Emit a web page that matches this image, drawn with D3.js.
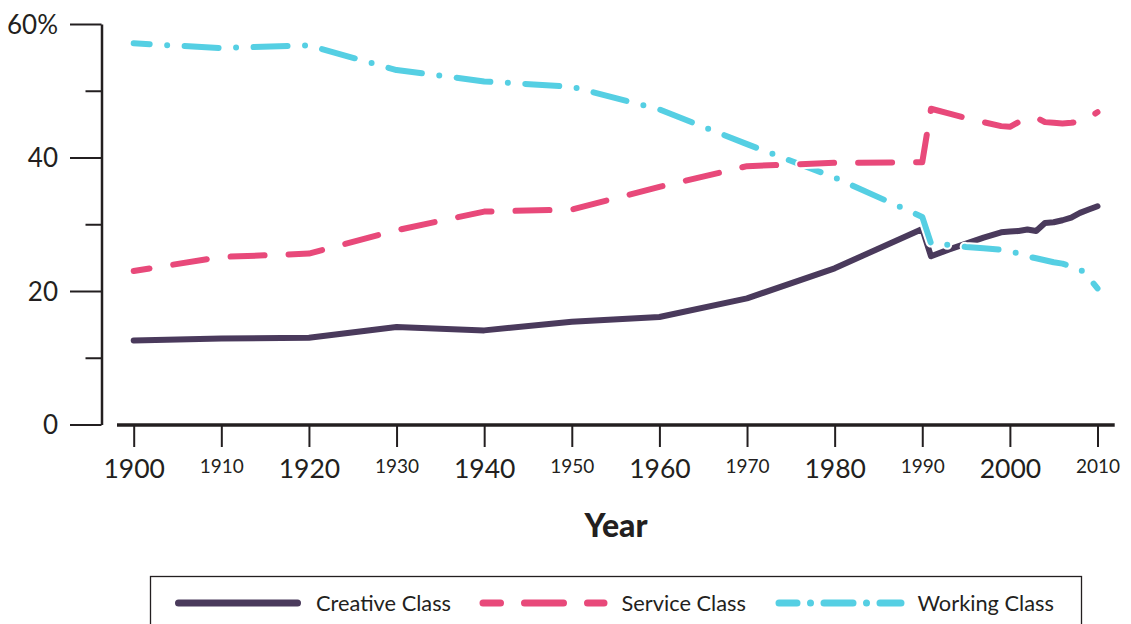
<!DOCTYPE html>
<html>
<head>
<meta charset="utf-8">
<script src="https://cdn.jsdelivr.net/npm/d3@7"></script>
<style>
  html, body { margin: 0; padding: 0; background: #fff; }
  svg { display: block; }
  text { font-family: Lato, "Open Sans", sans-serif; fill: #231f20; }
</style>
</head>
<body>
<script>
// ---- data ----
const years = [1900, 1910, 1920, 1930, 1940, 1950, 1960, 1970, 1980, 1990,
               1991, 1993, 1995, 1997, 1999, 2000, 2001, 2002, 2003, 2004,
               2005, 2006, 2007, 2008, 2009, 2010];
const creative = [12.6, 12.9, 13.0, 14.6, 14.1, 15.4, 16.1, 18.9, 23.4, 29.3,
                  25.2, 26.2, 27.1, 28.0, 28.8, 28.9, 29.0, 29.2, 29.0, 30.2,
                  30.3, 30.6, 31.0, 31.7, 32.2, 32.7];
const service = [23.0, 25.1, 25.6, 29.1, 31.9, 32.2, 35.6, 38.7, 39.2, 39.3,
                 47.3, 46.6, 45.9, 45.3, 44.7, 44.6, 45.3, 45.8, 46.0, 45.3,
                 45.2, 45.1, 45.2, 45.4, 45.9, 46.8];
const working = [57.1, 56.4, 56.8, 53.1, 51.4, 50.6, 47.2, 42.0, 37.0, 31.1,
                 27.1, 26.9, 26.6, 26.4, 26.2, 26.0, 25.6, 25.2, 24.9, 24.6,
                 24.3, 24.1, 23.7, 23.3, 22.0, 20.4];
const seriesNames = ["Creative Class", "Service Class", "Working Class"];
const seriesColors = ["#4a3a5c", "#e8497a", "#55cfe3"];
const yTicks = [0, 10, 20, 30, 40, 50, 60];
const yLabels = ["0", "", "20", "", "40", "", "60%"];
const xTicks = [1900, 1910, 1920, 1930, 1940, 1950, 1960, 1970, 1980, 1990, 2000, 2010];
const xTitle = "Year";

// ---- chart ----
const W = 1131, H = 624;
const svg = d3.select("body").append("svg").attr("width", W).attr("height", H);

const x = d3.scaleLinear().domain([1900, 2010]).range([133.7, 1097.5]);
const y = d3.scaleLinear().domain([0, 60]).range([424.5, 24]);

// Y axis
const gy = svg.append("g").attr("transform", "translate(101.5,0)")
  .call(d3.axisLeft(y).tickValues(yTicks).tickSize(31.5).tickSizeOuter(0).tickPadding(12)
    .tickFormat((d, i) => yLabels[i]));
gy.select(".domain").attr("stroke", "#231f20").attr("stroke-width", 2.5);
gy.selectAll(".tick line").attr("stroke", "#231f20").attr("stroke-width", 2)
  .attr("x2", d => d % 20 === 0 ? -31.5 : -16);
gy.selectAll(".tick text").style("font-size", "26px").attr("dy", "0.36em");

// X axis
const gx = svg.append("g").attr("transform", "translate(0,425)")
  .call(d3.axisBottom(x).tickValues(xTicks).tickSize(22).tickSizeOuter(0)
    .tickFormat(d => String(d)));
gx.select(".domain").remove();
gx.append("line").attr("x1", 117).attr("x2", 1114.7).attr("y1", 0).attr("y2", 0)
  .attr("stroke", "#231f20").attr("stroke-width", 3.5);
gx.selectAll(".tick line").attr("stroke", "#231f20").attr("stroke-width", 2);
gx.selectAll(".tick text")
  .attr("y", 34).attr("dy", "0.72em")
  .style("font-size", d => (d % 20 === 0 ? "26.5px" : "19px"));

svg.append("text").attr("x", 616).attr("y", 537).attr("text-anchor", "middle")
  .style("font-size", "32px").style("font-weight", "900").text(xTitle);

// Lines
const seriesData = [creative, service, working];
const dashes = [null, "34,24", "34,17.5,0,17.5"];
const drawOrder = [0, 2, 1];
const line = d3.line().x(d => x(d[0])).y(d => y(d[1]));
drawOrder.forEach(i => {
  const pts = years.map((yr, k) => [yr, seriesData[i][k]]);
  const g = svg.append("g");
  g.append("path").attr("d", line(pts)).attr("fill", "none")
    .attr("stroke", "#fff").attr("stroke-width", 10)
    .attr("stroke-linecap", "round").attr("stroke-linejoin", "round")
    .attr("stroke-dasharray", dashes[i]).attr("stroke-dashoffset", dashes[i] ? 18 : null);
  g.append("path").attr("d", line(pts)).attr("fill", "none")
    .attr("stroke", seriesColors[i]).attr("stroke-width", 6)
    .attr("stroke-linecap", "round").attr("stroke-linejoin", "round")
    .attr("stroke-dasharray", dashes[i]).attr("stroke-dashoffset", dashes[i] ? 18 : null);
});

// Legend
svg.append("rect").attr("x", 150.5).attr("y", 576.5).attr("width", 931).attr("height", 70)
  .attr("fill", "none").attr("stroke", "#231f20").attr("stroke-width", 1.3);
const legendItems = [
  { x0: 178.5, x1: 297.5, tx: 316, dash: null, off: 0 },
  { x0: 483, x1: 604, tx: 621.5, dash: "39,24", off: 21.5 },
  { x0: 779, x1: 901, tx: 917.5, dash: "29,13.5,0,13.5", off: 11 }
];
legendItems.forEach((it, i) => {
  svg.append("line").attr("x1", it.x0).attr("x2", it.x1).attr("y1", 603).attr("y2", 603)
    .attr("stroke", seriesColors[i]).attr("stroke-width", 7).attr("stroke-linecap", "round")
    .attr("stroke-dasharray", it.dash).attr("stroke-dashoffset", it.dash ? it.off : null);
  svg.append("text").attr("x", it.tx).attr("y", 603).attr("dy", "0.36em")
    .style("font-size", "21.8px").text(seriesNames[i]);
});
</script>
</body>
</html>
